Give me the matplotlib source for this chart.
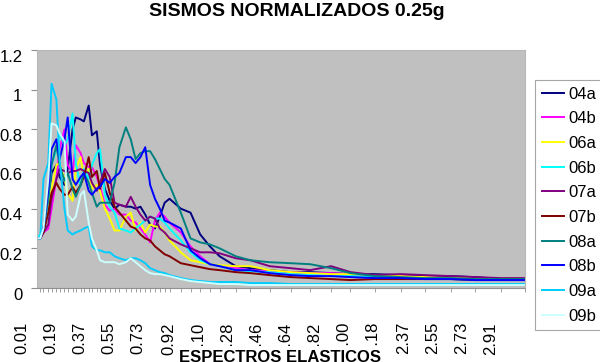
import matplotlib
matplotlib.use("Agg")
import matplotlib.pyplot as plt
from matplotlib.transforms import ScaledTranslation

plt.rcParams['font.family'] = ['Liberation Sans', 'DejaVu Sans']

# periodos (s)
periods = [0.01, 0.03, 0.05, 0.08, 0.10, 0.13, 0.15, 0.18, 0.20, 0.23,
           0.25, 0.28, 0.30, 0.33, 0.35, 0.38, 0.40, 0.43, 0.46, 0.49,
           0.52, 0.56, 0.59, 0.62, 0.65, 0.68, 0.71, 0.74, 0.77, 0.80,
           0.83, 0.90, 0.96, 1.02, 1.08, 1.14, 1.24, 1.33, 1.45, 1.58,
           1.70, 1.83, 1.95, 2.10, 2.26, 2.41, 2.57, 2.72, 2.88, 3.03]

s04a = [0.25, 0.25, 0.30, 0.45, 0.58, 0.62, 0.56, 0.52, 0.60, 0.80,
        0.86, 0.85, 0.84, 0.92, 0.77, 0.79, 0.62, 0.50, 0.44, 0.40,
        0.42, 0.41, 0.41, 0.40, 0.41, 0.37, 0.32, 0.30, 0.36, 0.43,
        0.45, 0.40, 0.38, 0.27, 0.21, 0.16, 0.11, 0.10, 0.09, 0.08,
        0.08, 0.075, 0.07, 0.07, 0.065, 0.06, 0.06, 0.055, 0.045, 0.04]
s04b = [0.25, 0.25, 0.28, 0.30, 0.40, 0.55, 0.70, 0.80, 0.62, 0.58,
        0.72, 0.68, 0.63, 0.61, 0.61, 0.56, 0.51, 0.42, 0.39, 0.40,
        0.37, 0.37, 0.34, 0.33, 0.30, 0.27, 0.23, 0.34, 0.38, 0.36,
        0.33, 0.28, 0.21, 0.16, 0.12, 0.11, 0.10, 0.09, 0.085, 0.08,
        0.075, 0.075, 0.07, 0.065, 0.06, 0.055, 0.05, 0.045, 0.04, 0.04]
s06a = [0.25, 0.25, 0.30, 0.38, 0.50, 0.62, 0.63, 0.55, 0.48, 0.44,
        0.60, 0.66, 0.55, 0.60, 0.50, 0.52, 0.49, 0.40, 0.35, 0.29,
        0.29, 0.36, 0.38, 0.29, 0.33, 0.28, 0.32, 0.31, 0.31, 0.28,
        0.24, 0.18, 0.14, 0.13, 0.12, 0.115, 0.11, 0.11, 0.09, 0.08,
        0.075, 0.07, 0.07, 0.065, 0.06, 0.055, 0.05, 0.05, 0.05, 0.05]
s06b = [0.25, 0.27, 0.30, 0.45, 0.62, 0.70, 0.78, 0.72, 0.75, 0.88,
        0.63, 0.51, 0.60, 0.55, 0.62, 0.68, 0.70, 0.47, 0.41, 0.38,
        0.30, 0.29, 0.28, 0.30, 0.32, 0.34, 0.36, 0.35, 0.35, 0.33,
        0.30, 0.24, 0.18, 0.14, 0.12, 0.11, 0.09, 0.085, 0.08, 0.07,
        0.065, 0.06, 0.06, 0.055, 0.05, 0.045, 0.045, 0.04, 0.04, 0.04]
s07a = [0.25, 0.25, 0.28, 0.32, 0.45, 0.55, 0.60, 0.59, 0.58, 0.59,
        0.59, 0.60, 0.59, 0.58, 0.53, 0.49, 0.53, 0.60, 0.56, 0.43,
        0.42, 0.41, 0.46, 0.41, 0.37, 0.34, 0.36, 0.35, 0.30, 0.28,
        0.25, 0.22, 0.20, 0.18, 0.18, 0.175, 0.15, 0.14, 0.11, 0.10,
        0.09, 0.11, 0.08, 0.065, 0.07, 0.065, 0.06, 0.055, 0.05, 0.05]
s07b = [0.25, 0.25, 0.28, 0.38, 0.48, 0.53, 0.50, 0.47, 0.47, 0.51,
        0.48, 0.52, 0.56, 0.66, 0.56, 0.59, 0.50, 0.58, 0.48, 0.41,
        0.38, 0.34, 0.31, 0.30, 0.27, 0.25, 0.24, 0.21, 0.19, 0.17,
        0.16, 0.125, 0.115, 0.105, 0.095, 0.09, 0.08, 0.075, 0.065, 0.055,
        0.05, 0.045, 0.04, 0.045, 0.045, 0.045, 0.045, 0.04, 0.04, 0.04]
s08a = [0.25, 0.25, 0.30, 0.45, 0.62, 0.72, 0.62, 0.54, 0.58, 0.50,
        0.46, 0.52, 0.58, 0.53, 0.48, 0.41, 0.43, 0.43, 0.43, 0.53,
        0.71, 0.81, 0.75, 0.65, 0.68, 0.69, 0.69, 0.65, 0.60, 0.55,
        0.52, 0.38, 0.25, 0.23, 0.22, 0.20, 0.16, 0.14, 0.13, 0.125,
        0.12, 0.10, 0.075, 0.06, 0.055, 0.05, 0.05, 0.045, 0.045, 0.045]
s08b = [0.25, 0.25, 0.30, 0.50, 0.70, 0.75, 0.65, 0.75, 0.86, 0.55,
        0.52, 0.56, 0.58, 0.49, 0.47, 0.50, 0.51, 0.55, 0.53, 0.56,
        0.58, 0.66, 0.66, 0.63, 0.66, 0.71, 0.52, 0.45, 0.40, 0.34,
        0.33, 0.30, 0.19, 0.15, 0.12, 0.11, 0.09, 0.09, 0.075, 0.065,
        0.06, 0.06, 0.055, 0.05, 0.05, 0.045, 0.045, 0.04, 0.04, 0.04]
s09a = [0.25, 0.25, 0.55, 0.63, 1.03, 0.95, 0.65, 0.40, 0.29, 0.27,
        0.28, 0.29, 0.30, 0.31, 0.21, 0.19, 0.19, 0.18, 0.18, 0.16,
        0.15, 0.14, 0.15, 0.15, 0.14, 0.125, 0.10, 0.09, 0.08, 0.075,
        0.065, 0.05, 0.04, 0.035, 0.03, 0.03, 0.03, 0.025, 0.025, 0.02,
        0.02, 0.02, 0.02, 0.02, 0.02, 0.02, 0.02, 0.02, 0.02, 0.02]
s09b = [0.25, 0.25, 0.30, 0.55, 0.83, 0.82, 0.78, 0.74, 0.37, 0.34,
        0.36, 0.47, 0.49, 0.33, 0.25, 0.19, 0.14, 0.13, 0.13, 0.13,
        0.12, 0.13, 0.15, 0.13, 0.11, 0.09, 0.075, 0.07, 0.07, 0.065,
        0.06, 0.045, 0.035, 0.03, 0.025, 0.02, 0.02, 0.015, 0.015, 0.015,
        0.015, 0.015, 0.015, 0.015, 0.015, 0.015, 0.015, 0.015, 0.015, 0.015]

names = ["04a", "04b", "06a", "06b", "07a", "07b", "08a", "08b", "09a", "09b"]
series = [s04a, s04b, s06a, s06b, s07a, s07b, s08a, s08b, s09a, s09b]
colors = ["#000080", "#FF00FF", "#FFFF00", "#00FFFF", "#800080",
          "#800000", "#008080", "#0000FF", "#00CCFF", "#CCFFFF"]

xlabels = ["0.01", "0.19", "0.37", "0.55", "0.73", "0.92", "1.10", "1.28", "1.46",
           "1.64", "1.82", "2.00", "2.18", "2.37", "2.55", "2.73", "2.91"]
yticks = [0, 0.2, 0.4, 0.6, 0.8, 1.0, 1.2]
ylabels = ["0", "0.2", "0.4", "0.6", "0.8", "1", "1.2"]

fig = plt.figure(figsize=(6, 3.62), dpi=100)
ax = fig.add_axes([37/600, 1 - 288/362, 488/600, 238/362])
ax.set_facecolor("#C0C0C0")

for name, vals, c in zip(names, series, colors):
    ax.plot(periods, vals, color=c, lw=1.4, label=name)

ax.set_xlim(periods[0], periods[-1])
ax.set_ylim(0, 1.2)

ax.set_xticks([float(v) for v in xlabels])
ax.set_xticklabels(xlabels, rotation=90, fontsize=12)
ax.set_xticks(periods, minor=True)
ax.tick_params(axis='x', which='major', length=0, pad=24.5)
ax.tick_params(axis='x', which='minor', length=3, color='#909090')

ax.set_yticks(yticks)
ax.set_yticklabels(ylabels, fontsize=12)
ax.tick_params(axis='y', length=4, color='#909090', pad=6.5)

# excel-like offsets of tick labels
for lab in ax.get_xticklabels():
    lab.set_transform(lab.get_transform() + ScaledTranslation(-0.15, 0, fig.dpi_scale_trans))
for lab in ax.get_yticklabels():
    lab.set_transform(lab.get_transform() + ScaledTranslation(0, -0.055, fig.dpi_scale_trans))

for s in ['top', 'right', 'left']:
    ax.spines[s].set_color('#b8b8b8')
ax.spines['bottom'].set_color('#909090')

fig.text(0.495, 1 - 11/362, "SISMOS NORMALIZADOS 0.25g", ha='center', va='center',
         fontsize=14, fontweight='bold')
fig.text(280/600, 1 - 357/362, "ESPECTROS ELASTICOS", ha='center', va='center',
         fontsize=12, fontweight='bold',
         bbox=dict(facecolor='white', edgecolor='none', pad=2.5))

leg = fig.legend(loc='upper left', bbox_to_anchor=(535/600, 1 - 80/362), fontsize=12,
                 frameon=True, fancybox=False, handlelength=1.35, handletextpad=0.25,
                 labelspacing=0.58, borderpad=0.4, borderaxespad=0)
leg.get_frame().set_edgecolor('#909090')
leg.get_frame().set_linewidth(0.8)

plt.savefig("out.png", dpi=100)
